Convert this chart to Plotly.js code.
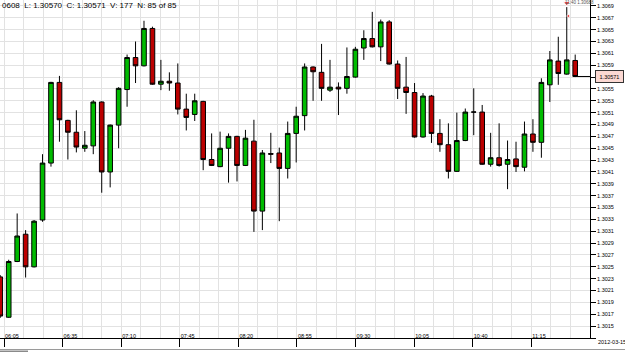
<!DOCTYPE html>
<html><head><meta charset="utf-8">
<script src="https://cdn.plot.ly/plotly-3.0.1.min.js"></script>
<style>html,body{margin:0;padding:0;background:#fff;}#chart{width:625px;height:352px;}</style>
</head><body><div id="chart"></div>
<script>
// ---- data (visible bars, oldest first) ----
const opens = [1.30233,1.30165,1.30259,1.30305,1.30250,1.30329,1.30425,1.30561,1.30497,1.30477,
1.30450,1.30454,1.30528,1.30410,1.30489,1.30549,1.30603,1.30589,1.30652,1.30558,
1.30563,1.30560,1.30516,1.30507,1.30529,1.30431,1.30419,1.30450,1.30470,1.30421,
1.30462,1.30344,1.30441,1.30442,1.30416,1.30475,1.30505,1.30587,1.30578,1.30548,
1.30553,1.30551,1.30570,1.30619,1.30635,1.30621,1.30663,1.30592,1.30553,1.30544,
1.30469,1.30538,1.30475,1.30456,1.30411,1.30463,1.30511,1.30511,1.30423,1.30434,
1.30423,1.30432,1.30418,1.30474,1.30460,1.30557,1.30597,1.30575,1.30598];
const highs = [1.30236,1.30262,1.30340,1.30312,1.30329,1.30440,1.30562,1.30572,1.30498,1.30514,
1.30479,1.30531,1.30529,1.30490,1.30553,1.30608,1.30630,1.30665,1.30655,1.30599,
1.30578,1.30593,1.30542,1.30542,1.30530,1.30475,1.30478,1.30475,1.30471,1.30481,
1.30498,1.30447,1.30476,1.30451,1.30495,1.30520,1.30593,1.30588,1.30626,1.30599,
1.30561,1.30620,1.30621,1.30649,1.30680,1.30667,1.30666,1.30598,1.30604,1.30560,
1.30543,1.30540,1.30499,1.30492,1.30510,1.30517,1.30551,1.30523,1.30476,1.30492,
1.30463,1.30461,1.30495,1.30499,1.30568,1.30614,1.30638,1.30688,1.30608];
const lows = [1.30164,1.30164,1.30258,1.30232,1.30249,1.30326,1.30419,1.30461,1.30431,1.30443,
1.30444,1.30440,1.30375,1.30384,1.30450,1.30520,1.30560,1.30588,1.30557,1.30548,
1.30547,1.30507,1.30480,1.30496,1.30413,1.30420,1.30418,1.30392,1.30394,1.30420,
1.30309,1.30312,1.30425,1.30327,1.30399,1.30426,1.30480,1.30530,1.30530,1.30545,
1.30506,1.30542,1.30569,1.30599,1.30620,1.30597,1.30591,1.30533,1.30508,1.30468,
1.30468,1.30459,1.30444,1.30399,1.30410,1.30462,1.30472,1.30422,1.30419,1.30419,
1.30381,1.30410,1.30411,1.30444,1.30434,1.30528,1.30557,1.30574,1.30570];
const closes = [1.30167,1.30259,1.30302,1.30250,1.30327,1.30425,1.30561,1.30498,1.30477,1.30452,
1.30455,1.30528,1.30410,1.30489,1.30551,1.30603,1.30589,1.30652,1.30558,1.30563,
1.30560,1.30516,1.30502,1.30530,1.30431,1.30421,1.30450,1.30470,1.30421,1.30467,
1.30344,1.30442,1.30440,1.30416,1.30475,1.30504,1.30587,1.30579,1.30551,1.30553,
1.30550,1.30571,1.30617,1.30635,1.30621,1.30663,1.30592,1.30551,1.30544,1.30469,
1.30538,1.30475,1.30456,1.30411,1.30463,1.30511,1.30511,1.30423,1.30434,1.30421,
1.30431,1.30419,1.30474,1.30460,1.30561,1.30599,1.30576,1.30599,1.30571];
const timeLabels = ['06:05','06:35','07:10','07:45','08:20','08:55','09:30','10:05','10:40','11:15'];
const dateLabel = '2012-03-15';
const volume = 177, barCount = 85;

// ---- layout helpers ----
const n = closes.length;
const xs = closes.map((_, i) => i);
const tick0 = 0.445, tickStep = 6.93;
const tickVals = timeLabels.map((_, k) => tick0 + k * tickStep);
const xRange = [-0.03, 69.75];
const yRange = [1.30130, 1.30700];
const last = n - 1;
const fmt = v => v.toFixed(5);
const yTicks = [];
for (let k = 0; k <= 27; k++) {
  const v = +(1.3015 + k * 0.0002).toFixed(4);
  if (Math.abs(v - closes[last]) > 0.00008) yTicks.push(v);
}
const info = fmt(highs[last]).slice(-4) + '  L: ' + fmt(lows[last]) + '  C: ' + fmt(closes[last]) +
  '  V: ' + volume + '  N: ' + barCount + ' of ' + barCount;
const hiIdx = highs.indexOf(Math.max(...highs));

const candle = {
  type: 'candlestick', x: xs, open: opens, high: highs, low: lows, close: closes,
  increasing: {fillcolor: '#00bb00', line: {color: '#000000', width: 1}},
  decreasing: {fillcolor: '#bb0000', line: {color: '#000000', width: 1}},
  whiskerwidth: 0, hoverinfo: 'skip', showlegend: false
};
const marks = {
  type: 'scatter', mode: 'markers', x: [hiIdx, hiIdx + 0.2], y: [1.30695, 1.30673],
  marker: {color: '#e00000', symbol: ['triangle-down', 'circle'], size: [6, 3]},
  hoverinfo: 'skip', showlegend: false
};

const small = {family: 'Liberation Sans, Arial, sans-serif', size: 5.5, color: '#000'};
const layout = {
  width: 625, height: 352,
  margin: {l: 0, r: 35, t: 0, b: 14, pad: 0, autoexpand: false},
  paper_bgcolor: '#ffffff', plot_bgcolor: '#ffffff',
  boxgap: 0.22,
  showlegend: false,
  xaxis: {
    range: xRange, fixedrange: true, rangeslider: {visible: false}, automargin: false,
    tickmode: 'array', tickvals: tickVals, ticktext: timeLabels,
    ticks: 'outside', ticklen: 8, tickcolor: '#000', tickwidth: 1,
    ticklabelposition: 'outside right', ticklabelstandoff: -8,
    tickfont: small,
    showgrid: true, gridcolor: '#e2e2e2', gridwidth: 1,
    minor: {tick0: tick0, dtick: tickStep / 3, showgrid: true, gridcolor: '#e2e2e2', ticks: ''},
    showline: true, linecolor: '#000', linewidth: 1, zeroline: false
  },
  yaxis: {
    range: yRange, side: 'right', fixedrange: true, automargin: false,
    tickmode: 'array', tickvals: yTicks, tickformat: '.4f',
    ticks: 'outside', ticklen: 5, tickcolor: '#000', tickwidth: 1,
    tickfont: small,
    showgrid: true, gridcolor: '#e2e2e2', gridwidth: 1,
    minor: {tick0: 1.3015, dtick: 0.0002, showgrid: true, gridcolor: '#e2e2e2', ticks: 'outside', ticklen: 5, tickcolor: '#000'},
    showline: true, linecolor: '#000', linewidth: 1, zeroline: false
  },
  shapes: [
    {type: 'line', xref: 'x', yref: 'y', x0: last, x1: xRange[1], y0: closes[last], y1: closes[last],
     line: {color: '#000', width: 1}, layer: 'below'},
    {type: 'line', xref: 'paper', yref: 'paper', x0: 0, x1: 625/590, y0: -11.5/338, y1: -11.5/338,
     line: {color: '#9a9a9a', width: 1}},
    {type: 'rect', xref: 'paper', yref: 'paper', x0: 0, x1: 28/590, y0: -12.5/338, y1: -14/338,
     line: {width: 0}, fillcolor: '#8a8a8a'}
  ],
  annotations: [
    {xref: 'paper', yref: 'paper', x: 0, y: 1 - 6/338, xanchor: 'left', yanchor: 'middle',
     text: info, showarrow: false, font: {family: 'Liberation Sans, Arial, sans-serif', size: 8, color: '#000'}},
    {xref: 'x', yref: 'paper', x: hiIdx, xshift: -4, y: 1 - 2.6/338, xanchor: 'left', yanchor: 'middle',
     text: '11:40 ' + fmt(highs[hiIdx]), showarrow: false,
     font: {family: 'Liberation Sans, Arial, sans-serif', size: 4.5, color: '#555'}},
    {xref: 'paper', yref: 'y', x: 1 + 5/590, y: closes[last], xanchor: 'left', yanchor: 'middle',
     text: fmt(closes[last]), showarrow: false, font: small,
     bgcolor: '#fbd8d2', bordercolor: '#333', borderwidth: 1, borderpad: 1, width: 25, height: 9},
    {xref: 'paper', yref: 'paper', x: 1 + 6/590, y: -3.5/338, xanchor: 'left', yanchor: 'middle',
     text: dateLabel, showarrow: false, font: small}
  ]
};

Plotly.newPlot('chart', [candle, marks], layout, {staticPlot: true, displayModeBar: false});
</script>
</body></html>
